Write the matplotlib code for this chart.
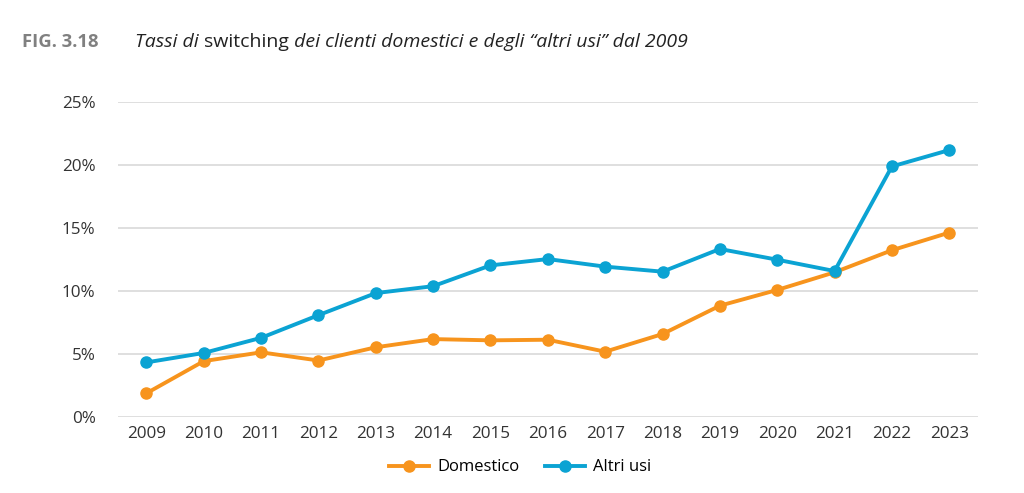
import numpy as np
from matplotlib import pyplot as plt
from matplotlib.ticker import FuncFormatter

years = list(range(2009, 2024))
domestico = [1.85, 4.4, 5.1, 4.45, 5.5, 6.15, 6.05, 6.1, 5.15, 6.55, 8.8, 10.05, 11.45, 13.2, 14.6]
altri_usi = [4.3, 5.05, 6.25, 8.05, 9.8, 10.35, 12.0, 12.5, 11.9, 11.5, 13.3, 12.45, 11.55, 19.85, 21.15]

# title pieces: (text, style)
title_parts = [("Tassi di ", "italic"), ("switching", "normal"),
               (" dei clienti domestici e degli \u201caltri usi\u201d dal 2009", "italic")]

orange = "#F7941D"
blue = "#0BA3D3"

plt.rcParams['font.family'] = ['Open Sans', 'DejaVu Sans']

fig = plt.figure(figsize=(10.24, 4.93), dpi=100)
ax = fig.add_axes([0.115, 0.155, 0.84, 0.639])

ax.plot(years, domestico, color=orange, lw=2.8, marker='o', ms=8, label="Domestico", zorder=3)
ax.plot(years, altri_usi, color=blue, lw=2.8, marker='o', ms=8, label="Altri usi", zorder=4)

ax.set_xlim(2008.5, 2023.5)
ax.set_ylim(0, 25)
ax.set_yticks([0, 5, 10, 15, 20, 25])
ax.yaxis.set_major_formatter(FuncFormatter(lambda v, p: f"{v:.0f}%"))
ax.set_xticks(years)
ax.grid(axis='y', color='#D9D9D9', lw=1.2)
ax.set_axisbelow(True)
for s in ax.spines.values():
    s.set_visible(False)
ax.tick_params(length=0, labelsize=12.3, colors='#333333')
ax.tick_params(axis='y', pad=16)
ax.tick_params(axis='x', pad=7)

fig.text(0.021, 0.915, "FIG. 3.18", fontsize=13.3, fontweight='bold', color='#808080', va='center')

# title with mixed italic / upright pieces
renderer = fig.canvas.get_renderer()
x = 135
for txt, st in title_parts:
    t = fig.text(x / 1024, 0.915, txt, fontsize=14, style=st, color='#222222', va='center')
    x = t.get_window_extent(renderer).x1

fig.legend(loc='center', bbox_to_anchor=(0.508, 0.052), ncol=2, frameon=False, fontsize=12,
           handlelength=2.4, columnspacing=1.5, handletextpad=0.5)

plt.savefig("out.png", dpi=100)
